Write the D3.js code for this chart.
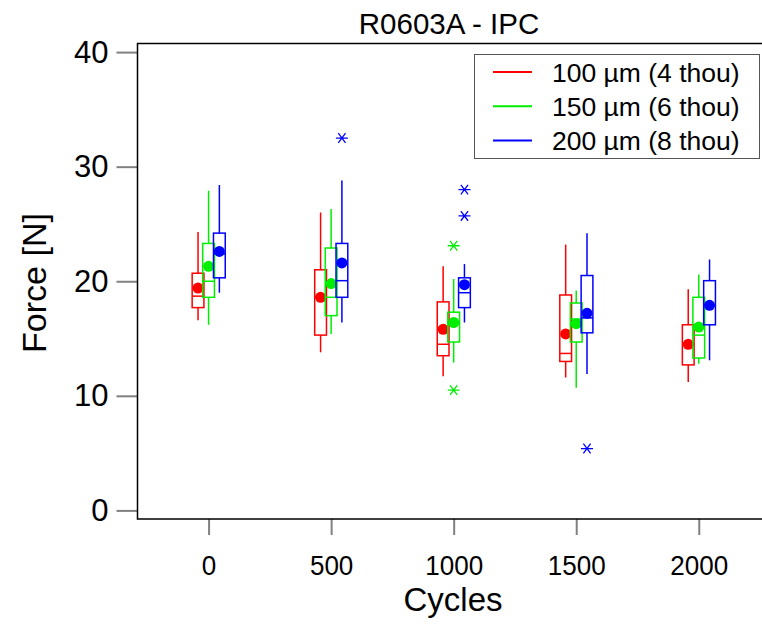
<!DOCTYPE html>
<html>
<head>
<meta charset="utf-8">
<script src="https://cdn.jsdelivr.net/npm/d3@7"></script>
<style>
    body { margin: 0; background: #fff; }
    svg { display: block; font-family: "Liberation Sans", Arial, sans-serif; }
</style>
</head>
<body>
<div id="chart"></div>
<script>
var cycles = [0, 500, 1000, 1500, 2000];
var seriesNames = ["100 µm (4 thou)", "150 µm (6 thou)", "200 µm (8 thou)"];
var seriesColors = ["#ff0000", "#00ee00", "#0000ff"];
var yTicks = [0, 10, 20, 30, 40];

// box stats per series, one entry per cycle: [whiskerLow, q1, median, q3, whiskerHigh]
var box100 = [[16.6, 17.7, 18.7, 20.7, 24.3], [13.8, 15.3, 18.6, 21.0, 26.0], [11.7, 13.5, 14.5, 18.2, 21.3], [11.6, 13.0, 13.7, 18.8, 23.2], [11.2, 12.7, 14.5, 16.2, 19.3]];
var box150 = [[16.2, 18.6, 20.0, 23.3, 27.9], [15.4, 17.0, 18.6, 22.9, 26.3], [12.9, 14.7, 16.3, 17.3, 20.2], [10.7, 14.7, 16.7, 18.1, 19.2], [12.8, 13.3, 15.3, 18.6, 20.6]];
var box200 = [[19.0, 20.3, 22.4, 24.2, 28.4], [16.4, 18.6, 20.05, 23.3, 28.8], [16.4, 17.7, 19.0, 20.3, 21.5], [11.9, 15.5, 16.8, 20.5, 24.2], [13.1, 16.2, 17.9, 20.05, 21.9]];
var means100 = [19.4, 18.6, 15.8, 15.4, 14.5];
var means150 = [21.3, 19.8, 16.4, 16.3, 16.0];
var means200 = [22.6, 21.6, 19.7, 17.2, 17.9];
var outliers100 = [[], [], [], [], []];
var outliers150 = [[], [], [23.1, 10.5], [], []];
var outliers200 = [[], [32.5], [28.0, 25.7], [5.4], []];

var boxes = [box100, box150, box200];
var means = [means100, means150, means200];
var outliers = [outliers100, outliers150, outliers200];
var offsets = [-43, 0, 44];   // horizontal shift of each series, in cycles
var boxHalf = 24;             // half box width, in cycles

var width = 762, height = 626;

var svg = d3.select("#chart").append("svg")
    .attr("width", width)
    .attr("height", height);

var x = d3.scaleLinear().domain([-290, 2258]).range([137.5, 762]);
var y = d3.scaleLinear().domain([-0.75, 40.75]).range([519, 43.5]);

// axes with gray ticks outside the frame
var xAxis = d3.axisBottom(x).tickValues(cycles).tickSize(16).tickPadding(0).tickFormat(d3.format("d"));
var xAxisGroup = svg.append("g").attr("transform", "translate(0,519)").call(xAxis);
xAxisGroup.select(".domain").remove();
xAxisGroup.selectAll("line").attr("stroke", "#808080").attr("stroke-width", 2);
//narrow, tall tick labels like the original
xAxisGroup.selectAll("text")
    .attr("font-size", 28).attr("fill", "#000").attr("font-family", null)
    .attr("y", 0).attr("dy", null)
    .attr("transform", "translate(0,56) scale(0.93,1)");

var yAxis = d3.axisLeft(y).tickValues(yTicks).tickSize(21).tickPadding(8);
var yAxisGroup = svg.append("g").attr("transform", "translate(137.5,0)").call(yAxis);
yAxisGroup.select(".domain").remove();
yAxisGroup.selectAll("line").attr("stroke", "#808080").attr("stroke-width", 2);
yAxisGroup.selectAll("text").attr("font-size", 31).attr("fill", "#000").attr("font-family", null);

// frame (left, top, bottom)
svg.append("path")
    .attr("d", "M762,43.5H137.5V519H762")
    .attr("fill", "none")
    .attr("stroke", "#000")
    .attr("stroke-width", 1.5);

// draw the box plots
var plot = svg.append("g");
boxes.forEach(function(series, s){
    var color = seriesColors[s];
    var g = plot.append("g").attr("stroke", color).attr("fill", "none").attr("stroke-width", 1.5);
    series.forEach(function(b, i){
        var cx = x(cycles[i] + offsets[s]);
        var x0 = x(cycles[i] + offsets[s] - boxHalf), x1 = x(cycles[i] + offsets[s] + boxHalf);
        // whiskers
        g.append("line").attr("x1", cx).attr("x2", cx).attr("y1", y(b[0])).attr("y2", y(b[1]));
        g.append("line").attr("x1", cx).attr("x2", cx).attr("y1", y(b[3])).attr("y2", y(b[4]));
        // box and median
        g.append("rect").attr("x", x0).attr("y", y(b[3])).attr("width", x1 - x0).attr("height", y(b[1]) - y(b[3]));
        g.append("line").attr("x1", x0).attr("x2", x1).attr("y1", y(b[2])).attr("y2", y(b[2]));
        // mean
        g.append("circle").attr("cx", cx).attr("cy", y(means[s][i])).attr("r", 5.5).attr("fill", color).attr("stroke", "none");
        // outliers as asterisks
        outliers[s][i].forEach(function(v){
            var oy = y(v), r = 6;
            g.append("path")
                .attr("d", "M" + (cx - r) + "," + oy + "H" + (cx + r) +
                    "M" + (cx - r * 0.6) + "," + (oy - r * 0.8) + "L" + (cx + r * 0.6) + "," + (oy + r * 0.8) +
                    "M" + (cx - r * 0.6) + "," + (oy + r * 0.8) + "L" + (cx + r * 0.6) + "," + (oy - r * 0.8))
                .attr("stroke-width", 1.3);
        });
    });
});

// title and axis labels
svg.append("text").attr("x", 449).attr("y", 34).attr("text-anchor", "middle")
    .attr("font-size", 29.5).text("R0603A - IPC");
svg.append("text").attr("x", 453).attr("y", 611).attr("text-anchor", "middle")
    .attr("font-size", 33).text("Cycles");
svg.append("text").attr("transform", "translate(46,283) rotate(-90)").attr("text-anchor", "middle")
    .attr("font-size", 34).text("Force [N]");

// legend
var legend = svg.append("g");
legend.append("rect").attr("x", 474.5).attr("y", 54.5).attr("width", 285).attr("height", 104)
    .attr("fill", "#fff").attr("stroke", "#555").attr("stroke-width", 1);
seriesNames.forEach(function(name, i){
    var ly = 72 + i * 34.3;
    legend.append("line").attr("x1", 493).attr("x2", 532).attr("y1", ly).attr("y2", ly)
        .attr("stroke", seriesColors[i]).attr("stroke-width", 2);
    legend.append("text").attr("x", 552).attr("y", ly + 9.5).attr("font-size", 26.5).text(name);
});
</script>
</body>
</html>
